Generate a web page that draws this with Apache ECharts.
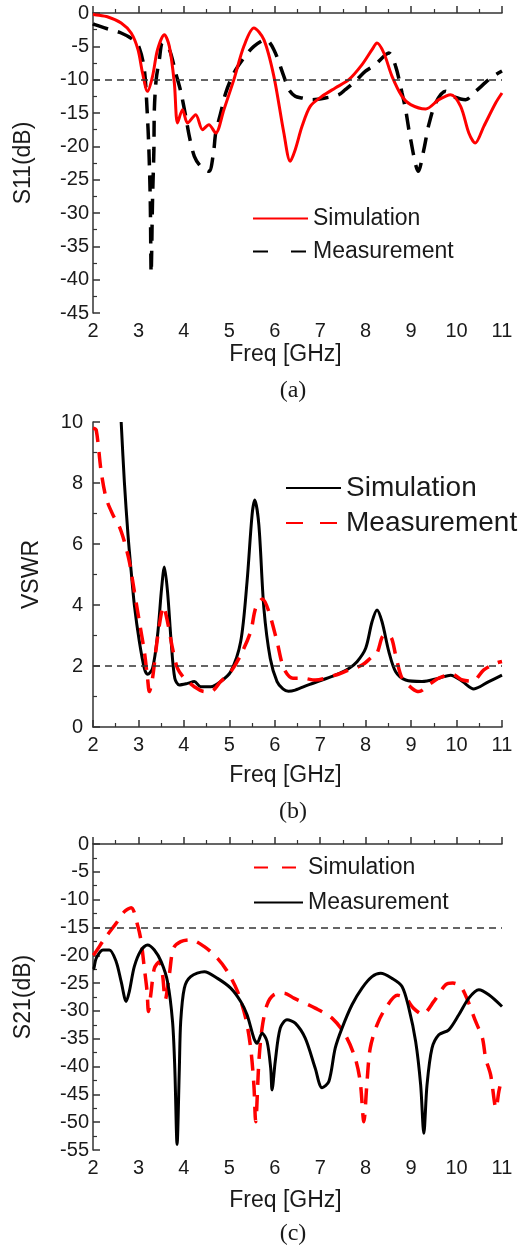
<!DOCTYPE html>
<html>
<head>
<meta charset="utf-8">
<script src="https://cdn.jsdelivr.net/npm/echarts@6/dist/echarts.min.js"></script>
<style>
html,body{margin:0;padding:0;background:#fff;}
#chart{width:526px;height:1247px;}
</style>
</head>
<body>
<div id="chart"></div>
<script>
// ---------- DATA ----------
const freqTicks = [2, 3, 4, 5, 6, 7, 8, 9, 10, 11];
const s11Ticks = [-45, -40, -35, -30, -25, -20, -15, -10, -5, 0];
const vswrTicks = [0, 2, 4, 6, 8, 10];
const s21Ticks = [-55, -50, -45, -40, -35, -30, -25, -20, -15, -10, -5, 0];
const s11Limit = -10;
const vswrLimit = 2;
const s21Limit = -15;

// (a) S11
const s11SimFreq = [2.0, 2.04, 2.33, 2.62, 2.84, 2.99, 3.09, 3.2, 3.31, 3.42, 3.57, 3.68, 3.79, 3.86, 3.97, 4.08, 4.26, 4.41, 4.55, 4.7, 4.88, 5.1, 5.32, 5.54, 5.76, 5.98, 6.2, 6.34, 6.45, 6.6, 6.78, 7.04, 7.33, 7.63, 7.92, 8.14, 8.25, 8.4, 8.58, 8.8, 8.99, 9.32, 9.61, 9.87, 10.09, 10.27, 10.41, 10.6, 10.86, 11.0];
const s11SimVal = [-0.2, -0.25, -0.6, -1.5, -3, -5.5, -9, -11.75, -9.5, -5.5, -3.25, -5, -10.5, -16.5, -14.5, -16.5, -15.25, -17.5, -16.75, -18, -14.5, -10, -5, -2.25, -4, -9.5, -18, -22.25, -20.5, -17, -14, -12.5, -11.25, -10, -7.75, -5.5, -4.5, -6, -9.5, -12.5, -13.75, -14.4, -13, -12.25, -14, -18, -19.5, -17, -13.5, -12];
const s11MeasFreq = [2.0, 2.04, 2.33, 2.62, 2.88, 3.02, 3.13, 3.19, 3.23, 3.26, 3.28, 3.31, 3.34, 3.35, 3.39, 3.46, 3.53, 3.68, 3.82, 3.93, 4.04, 4.12, 4.23, 4.37, 4.55, 4.65, 4.7, 4.81, 4.92, 5.1, 5.32, 5.54, 5.8, 5.98, 6.2, 6.31, 6.45, 6.6, 6.82, 7.11, 7.41, 7.55, 7.77, 7.99, 8.21, 8.51, 8.66, 8.8, 8.88, 8.99, 9.16, 9.28, 9.39, 9.54, 9.76, 9.91, 10.2, 10.42, 10.71, 10.86, 11.0];
const s11MeasVal = [-1.6, -1.75, -2.4, -3, -4, -5.25, -8.5, -14.5, -20.5, -28, -39, -28, -20.5, -14.5, -10, -7, -4.5, -5.5, -9, -11.75, -15.5, -18.5, -21.5, -23, -23.75, -21, -18, -15, -12, -9, -6.75, -5, -4, -5.5, -9.5, -11.5, -12.5, -12.75, -13, -12.75, -12.25, -11.5, -10.25, -8.75, -7.75, -6, -8, -12, -14.5, -19, -23.75, -20.5, -16.75, -13.5, -11.75, -12.5, -13, -11.75, -10, -9.25, -8.7];

// (b) VSWR
const vswrSimFreq = [2.62, 2.69, 2.77, 2.84, 2.91, 3.02, 3.13, 3.2, 3.31, 3.42, 3.51, 3.57, 3.64, 3.72, 3.8, 3.9, 4.08, 4.23, 4.37, 4.59, 4.81, 5.03, 5.25, 5.39, 5.5, 5.56, 5.65, 5.76, 5.9, 6.05, 6.18, 6.3, 6.45, 6.74, 7.04, 7.33, 7.63, 7.81, 8.0, 8.14, 8.25, 8.36, 8.51, 8.66, 8.88, 9.24, 9.61, 9.87, 10.13, 10.38, 10.71, 11.0];
const vswrSimVal = [10, 8.04, 6.3, 5.1, 4.0, 2.8, 1.92, 1.73, 1.92, 3.0, 4.55, 5.25, 4.44, 2.8, 1.6, 1.38, 1.43, 1.49, 1.32, 1.32, 1.49, 1.81, 2.8, 4.77, 6.95, 7.44, 6.62, 3.9, 2.25, 1.49, 1.25, 1.17, 1.21, 1.38, 1.54, 1.7, 1.92, 2.14, 2.58, 3.45, 3.84, 3.45, 2.47, 1.81, 1.54, 1.49, 1.6, 1.7, 1.49, 1.25, 1.49, 1.7];
const vswrMeasFreq = [2.0, 2.07, 2.18, 2.29, 2.44, 2.58, 2.69, 2.8, 2.91, 3.02, 3.13, 3.2, 3.24, 3.31, 3.39, 3.46, 3.55, 3.64, 3.75, 3.86, 4.01, 4.23, 4.45, 4.59, 4.81, 5.03, 5.25, 5.47, 5.58, 5.73, 5.87, 6.05, 6.2, 6.4, 6.6, 6.89, 7.33, 7.63, 7.92, 8.14, 8.25, 8.4, 8.55, 8.66, 8.8, 9.02, 9.17, 9.39, 9.61, 9.9, 10.13, 10.35, 10.6, 10.86, 11.0];
const vswrMeasVal = [9.8, 9.74, 8.37, 7.5, 6.95, 6.57, 6.08, 5.42, 4.44, 3.45, 2.47, 1.6, 1.16, 1.6, 2.58, 3.34, 3.95, 3.45, 2.58, 1.92, 1.6, 1.32, 1.16, 1.16, 1.49, 1.81, 2.36, 3.13, 3.9, 4.2, 3.78, 2.8, 1.92, 1.6, 1.6, 1.54, 1.7, 1.87, 2.03, 2.3, 2.42, 3.0, 2.96, 2.36, 1.6, 1.27, 1.16, 1.38, 1.6, 1.73, 1.54, 1.5, 1.87, 2.09, 2.15];

// (c) S21
const s21SimFreq = [2.0, 2.04, 2.26, 2.51, 2.69, 2.84, 2.99, 3.06, 3.13, 3.19, 3.22, 3.28, 3.35, 3.46, 3.53, 3.59, 3.68, 3.77, 3.93, 4.15, 4.45, 4.74, 4.96, 5.18, 5.36, 5.47, 5.54, 5.58, 5.65, 5.72, 5.83, 5.98, 6.2, 6.42, 6.89, 7.26, 7.55, 7.77, 7.88, 7.96, 8.03, 8.1, 8.25, 8.44, 8.7, 8.88, 9.05, 9.25, 9.5, 9.76, 9.92, 10.09, 10.24, 10.42, 10.57, 10.64, 10.75, 10.87, 10.93, 11.0];
const s21SimVal = [-20, -19.65, -16.96, -14.26, -12.16, -11.44, -14.86, -17.55, -22.35, -26.5, -30.1, -26.5, -22.35, -21.15, -23.5, -28, -23.5, -18.75, -17.55, -17.25, -18.45, -20.55, -22.95, -26.5, -31.3, -36.7, -43.3, -49.9, -39.1, -33.1, -28.9, -27.1, -26.8, -27.7, -29.5, -31.3, -34.3, -38.5, -42.7, -49.9, -42.7, -36.7, -32.5, -29.5, -27.2, -27.7, -29.5, -30.6, -28.3, -25.3, -25, -25.6, -28, -31.9, -34.9, -38.5, -41.5, -47.5, -44.5, -42];
const s21MeasFreq = [2.0, 2.02, 2.07, 2.22, 2.36, 2.51, 2.62, 2.73, 2.8, 2.91, 3.06, 3.2, 3.35, 3.5, 3.64, 3.75, 3.8, 3.85, 3.9, 3.93, 4.01, 4.15, 4.45, 4.74, 5.03, 5.25, 5.39, 5.54, 5.61, 5.72, 5.83, 5.91, 5.94, 6.01, 6.12, 6.27, 6.45, 6.67, 6.89, 7.04, 7.19, 7.33, 7.48, 7.7, 7.92, 8.14, 8.33, 8.58, 8.8, 8.95, 9.1, 9.21, 9.28, 9.35, 9.46, 9.61, 9.83, 10.05, 10.27, 10.49, 10.71, 11.0];
const s21MeasVal = [-22.5, -22.35, -20.55, -19.05, -19.05, -21.15, -24.75, -28.3, -26.5, -22, -19.05, -18.15, -19.05, -21.15, -24.75, -31.9, -40.3, -54, -40.3, -31.9, -25.9, -23.85, -22.95, -24.15, -25.9, -28.3, -30.7, -34.9, -35.8, -34.0, -35.5, -40.3, -44.2, -39.1, -33.1, -31.6, -32.2, -34.9, -40.3, -43.8, -42.7, -36.7, -33.1, -28.9, -25.9, -23.85, -23.25, -24.15, -25.6, -29.5, -35.5, -43.3, -52, -43.3, -36.7, -34.3, -33.4, -30.7, -27.7, -26.2, -27.1, -29.2];

// ---------- CHART ----------
const zip = (a, b) => a.map((v, i) => [v, b[i]]);
const FONT = '"Liberation Sans", Arial, sans-serif';
const SERIF = '"Liberation Serif", "Times New Roman", serif';
const AX = '#333';
const TXT = '#1a1a1a';
const RED = '#ff0000';
const BLK = '#000000';
const DASH = [16, 10];

const grids = [
  {left: 93, right: 24, top: 13, height: 300},
  {left: 93, right: 24, top: 422, height: 305},
  {left: 93, right: 24, top: 844, height: 306}
];

function xAx(i, nameGap) {
  return {
    gridIndex: i, type: 'value',
    min: freqTicks[0], max: freqTicks[freqTicks.length - 1], interval: freqTicks[1] - freqTicks[0],
    axisLine: {show: true, lineStyle: {color: AX, width: 1.5}},
    axisTick: {show: true, inside: true, length: 7, lineStyle: {color: AX, width: 1.5}},
    minorTick: {show: true, splitNumber: 2, length: 4, lineStyle: {color: AX, width: 1.2}},
    splitLine: {show: false},
    axisLabel: {fontSize: 20, color: TXT, margin: 8, fontFamily: FONT},
    name: 'Freq [GHz]', nameLocation: 'middle', nameGap: nameGap,
    nameTextStyle: {fontSize: 23, color: TXT, fontFamily: FONT, padding: [0, 24, 0, 0]}
  };
}
function yAx(i, ticks, name, labelMargin, nameGap) {
  return {
    gridIndex: i, type: 'value',
    min: ticks[0], max: ticks[ticks.length - 1], interval: ticks[1] - ticks[0],
    axisLine: {show: true, onZero: false, lineStyle: {color: AX, width: 1.5}},
    axisTick: {show: true, inside: true, length: 7, lineStyle: {color: AX, width: 1.5}},
    minorTick: {show: true, splitNumber: 2, length: 4, lineStyle: {color: AX, width: 1.2}},
    splitLine: {show: false},
    axisLabel: {fontSize: 20, color: TXT, margin: labelMargin, fontFamily: FONT},
    name: name, nameLocation: 'middle', nameRotate: 90, nameGap: nameGap,
    nameTextStyle: {fontSize: 23, color: TXT, fontFamily: FONT}
  };
}
function limitLine(v) {
  return {
    silent: true, symbol: 'none', label: {show: false},
    lineStyle: {color: '#333', type: [7, 5], width: 1.5},
    emphasis: {disabled: true},
    data: [{yAxis: v}]
  };
}
function line(name, i, fx, vy, color, width, dashed, extra) {
  return Object.assign({
    name: name, type: 'line', xAxisIndex: i, yAxisIndex: i,
    data: zip(fx, vy), showSymbol: false, symbol: 'none', smooth: 0.3,
    lineStyle: {color: color, width: width, type: dashed ? DASH : 'solid'},
    itemStyle: {color: color},
    emphasis: {disabled: true}
  }, extra || {});
}
const fmt = n => n.split(':')[1];
function leg(name, left, top, fs, iw, dash) {
  const l = {
    data: [name], left: left, top: top, orient: 'vertical', padding: 0,
    itemWidth: iw, itemHeight: 14, selectedMode: false, formatter: fmt,
    itemStyle: {opacity: 0, borderWidth: 0},
    textStyle: {fontSize: fs, color: TXT, fontFamily: FONT, lineHeight: fs + 4}
  };
  if (dash) l.lineStyle = {type: dash};
  return l;
}

const option = {
  animation: false,
  backgroundColor: '#ffffff',
  grid: grids,
  xAxis: [xAx(0, 30), xAx(1, 37), xAx(2, 39)],
  yAxis: [
    yAx(0, s11Ticks, 'S11(dB)', 4, 58),
    yAx(1, vswrTicks, 'VSWR', 10, 50),
    yAx(2, s21Ticks, 'S21(dB)', 4, 58)
  ],
  legend: [
    leg('a:Simulation', 252, 205, 23, 55, null),
    leg('a:Measurement', 252, 238, 23, 55, [15, 23]),
    leg('b:Simulation', 285, 472, 28, 55, null),
    leg('b:Measurement', 285, 507, 28, 55, [17, 17]),
    leg('c:Simulation', 253, 854, 23, 49, [14, 14]),
    leg('c:Measurement', 253, 889, 23, 49, null)
  ],
  series: [
    line('a:Measurement', 0, s11MeasFreq, s11MeasVal, BLK, 3.5, true, {markLine: limitLine(s11Limit)}),
    line('a:Simulation', 0, s11SimFreq, s11SimVal, RED, 3, false),
    line('b:Simulation', 1, vswrSimFreq, vswrSimVal, BLK, 3, false, {markLine: limitLine(vswrLimit)}),
    line('b:Measurement', 1, vswrMeasFreq, vswrMeasVal, RED, 3.5, true),
    line('c:Simulation', 2, s21SimFreq, s21SimVal, RED, 3.5, true, {markLine: limitLine(s21Limit)}),
    line('c:Measurement', 2, s21MeasFreq, s21MeasVal, BLK, 3, false)
  ],
  graphic: [
    {type: 'text', x: 293, y: 391, style: {text: '(a)', font: '24px ' + SERIF, fill: TXT, align: 'center', verticalAlign: 'middle'}},
    {type: 'text', x: 293, y: 812, style: {text: '(b)', font: '24px ' + SERIF, fill: TXT, align: 'center', verticalAlign: 'middle'}},
    {type: 'text', x: 293, y: 1234, style: {text: '(c)', font: '24px ' + SERIF, fill: TXT, align: 'center', verticalAlign: 'middle'}}
  ]
};

const chart = echarts.init(document.getElementById('chart'), null, {renderer: 'canvas'});
chart.setOption(option);
</script>
</body>
</html>
